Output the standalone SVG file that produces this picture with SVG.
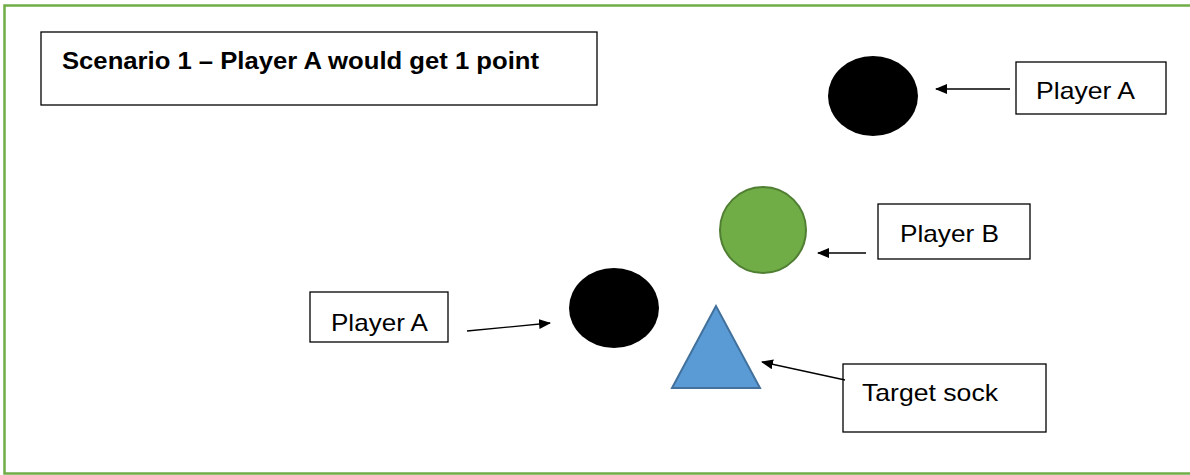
<svg xmlns="http://www.w3.org/2000/svg" width="1190" height="475" viewBox="0 0 1190 475">
<defs>
<style>
.box{fill:#fff;stroke:#000;stroke-width:1.3}
.lbl{font-family:"Liberation Sans",Arial,sans-serif;font-size:24px;fill:#000}
.ttl{font-family:"Liberation Sans",Arial,sans-serif;font-size:23px;font-weight:bold;fill:#000}
.con{stroke:#000;stroke-width:1.3;fill:none;marker-end:url(#ah)}
</style>
<marker id="ah" viewBox="0 0 12 10" refX="11" refY="5" markerWidth="12" markerHeight="10" markerUnits="userSpaceOnUse" orient="auto">
<path d="M0,0 L12,5 L0,10 z" fill="#000"/>
</marker>
</defs>
<rect x="0" y="0" width="1190" height="475" fill="#fff"/>
<rect x="4.5" y="5.5" width="1190" height="468" fill="none" stroke="#70AD47" stroke-width="2.5"/>
<g id="title">
<rect class="box" x="41" y="32" width="556" height="73"/>
<text class="ttl" x="62" y="69" textLength="477" lengthAdjust="spacingAndGlyphs">Scenario 1 – Player A would get 1 point</text>
</g>
<g id="playerA-top">
<ellipse cx="873" cy="96" rx="45" ry="40" fill="#000"/>
</g>
<g id="label-playerA-top">
<rect class="box" x="1016" y="62" width="150" height="52"/>
<text class="lbl" x="1036" y="99" textLength="99" lengthAdjust="spacingAndGlyphs">Player A</text>
</g>
<g id="playerB">
<circle cx="763" cy="230" r="43" fill="#70AD47" stroke="#507E32" stroke-width="2"/>
</g>
<g id="label-playerB">
<rect class="box" x="878" y="204" width="152" height="55"/>
<text class="lbl" x="900" y="242" textLength="99" lengthAdjust="spacingAndGlyphs">Player B</text>
</g>
<g id="playerA-bottom">
<ellipse cx="614" cy="308" rx="45" ry="40" fill="#000"/>
</g>
<g id="label-playerA-bottom">
<rect class="box" x="310" y="292" width="138" height="50"/>
<text class="lbl" x="331" y="331" textLength="97" lengthAdjust="spacingAndGlyphs">Player A</text>
</g>
<g id="target-sock">
<polygon points="716,306 672,388 760,388" fill="#5B9BD5" stroke="#41719C" stroke-width="2"/>
</g>
<g id="label-target-sock">
<rect class="box" x="843" y="364" width="203" height="68"/>
<text class="lbl" x="862" y="401" textLength="136" lengthAdjust="spacingAndGlyphs">Target sock</text>
</g>
<g id="connectors">
<line class="con" x1="1010" y1="89" x2="936" y2="89"/>
<line class="con" x1="866" y1="253" x2="818" y2="253"/>
<line class="con" x1="467" y1="331" x2="550" y2="323"/>
<line class="con" x1="845" y1="380" x2="762" y2="362"/>
</g>
</svg>
